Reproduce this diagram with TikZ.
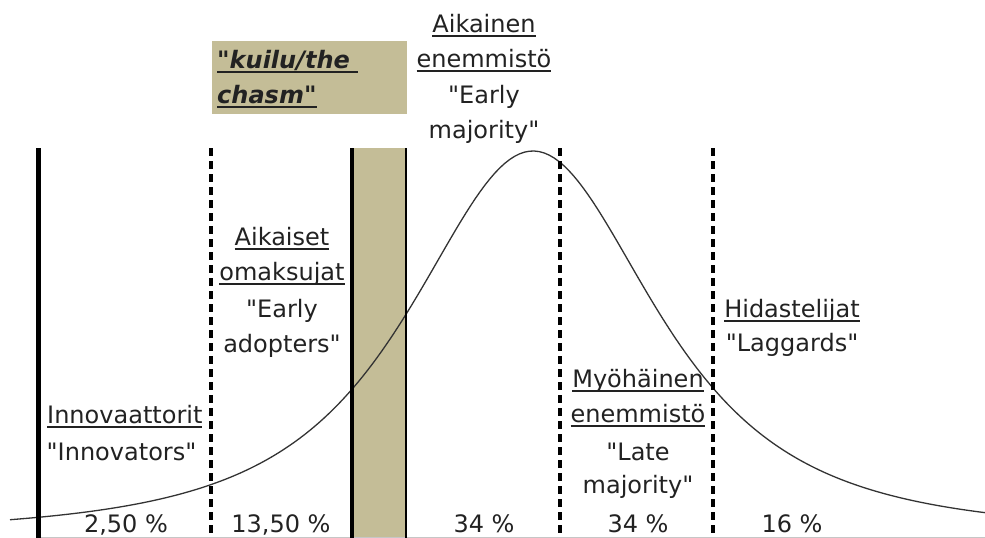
\documentclass[tikz,border=0pt]{standalone}
\usepackage{fontspec}
\newfontfamily\verd{DejaVu Sans}
\definecolor{chasmtan}{RGB}{196,189,151}
\definecolor{txt}{RGB}{34,34,34}
\newsavebox\undlbox
\newcommand{\undl}[1]{\sbox\undlbox{#1}\rlap{\rule[-4.5pt]{\wd\undlbox}{1.5pt}}\usebox\undlbox}

\begin{document}
\begin{tikzpicture}[x={(1pt,0pt)},y={(0pt,-1pt)},font=\verd\fontsize{24}{36}\selectfont]

\tikzset{lbl/.style={anchor=base,inner sep=0pt,text=txt},
divider/.style={line width=3.5pt,dash pattern=on 8pt off 5pt},
curve/.style={line width=1.3pt,draw=black!80},
chasmlbl/.style={lbl,anchor=base west,font=\verd\fontsize{24}{36}\selectfont\bfseries\itshape}}

\useasboundingbox (0,0) rectangle (985,538);

% Chasm
\fill[chasmtan] (352,148) rectangle (406,538);
\node[fill=chasmtan,inner sep=0pt,minimum width=195pt,minimum height=73pt,anchor=north west] (chasmbox) at (212,41) {};
\node[chasmlbl] (chasm1) at (217,68) {\undl{"kuilu/the }};
\node[chasmlbl] (chasm2) at (217,103) {\undl{chasm"}};

% Bell curve
\draw[curve] plot[domain=10:985,samples=200] (\x,{535-384/(1+((\x-533)/190)^2)^1.5});

% Dividers
\draw[gray!45,line width=1pt] (38,537.5) -- (985,537.5);
\draw[line width=5pt] (38,148) -- (38,538);
\foreach \x in {211,560,713} \draw[divider] (\x,148) -- (\x,538);
\draw[line width=4pt] (352,148) -- (352,538);
\draw[line width=2pt] (406,148) -- (406,538);

% Shares
\foreach \x/\p [count=\i] in {126/{2,50 \%},281/{13,50 \%},484/{34 \%},638/{34 \%},792/{16 \%}}
  \node[lbl] (pct\i) at (\x,532) {\p};

% Innovators
\node[lbl,anchor=base west] (inno1) at (47,423) {\undl{Innovaattorit}};
\node[lbl] (inno2) at (121.5,460) {"Innovators"};

% Early adopters
\node[lbl] (adopt1) at (282,245) {\undl{Aikaiset}};
\node[lbl] (adopt2) at (282,280) {\undl{omaksujat}};
\node[lbl] (adopt3) at (282,317) {"Early};
\node[lbl] (adopt4) at (282,352) {adopters"};

% Early majority
\node[lbl] (early1) at (484,32) {\undl{Aikainen}};
\node[lbl] (early2) at (484,67) {\undl{enemmistö}};
\node[lbl] (early3) at (484,103) {"Early};
\node[lbl] (early4) at (484,138) {majority"};

% Late majority
\node[lbl] (late1) at (638,387) {\undl{Myöhäinen}};
\node[lbl] (late2) at (638,422) {\undl{enemmistö}};
\node[lbl] (late3) at (638,460) {"Late};
\node[lbl] (late4) at (638,493) {majority"};

% Laggards
\node[lbl] (lag1) at (792,317) {\undl{Hidastelijat}};
\node[lbl] (lag2) at (792,351) {"Laggards"};

\end{tikzpicture}
\end{document}
